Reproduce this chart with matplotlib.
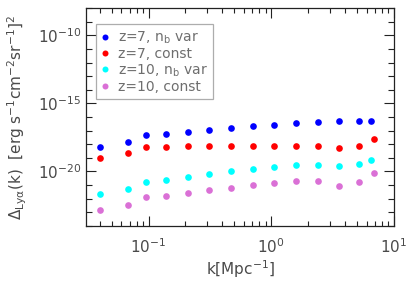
import numpy as np
import matplotlib
matplotlib.use("Agg")
import matplotlib.pyplot as plt
from matplotlib.ticker import FixedLocator, LogLocator, NullFormatter, LogFormatterMathtext

plt.rcParams['font.family'] = ['DejaVu Sans']
plt.rcParams['mathtext.fontset'] = 'dejavusans'

k = [0.0404, 0.0676, 0.0958, 0.138, 0.210, 0.312, 0.470, 0.708, 1.06, 1.59, 2.40, 3.59, 5.23, 6.82]
k_last_alt = [0.0404, 0.0676, 0.0958, 0.138, 0.210, 0.312, 0.470, 0.708, 1.06, 1.59, 2.40, 3.59, 5.23, 6.45]

log_z7_var = [-18.17, -17.85, -17.34, -17.26, -17.12, -16.97, -16.82, -16.68, -16.55, -16.43, -16.33, -16.31, -16.29, -16.29]
log_z7_const = [-18.98, -18.67, -18.22, -18.20, -18.15, -18.13, -18.13, -18.15, -18.15, -18.13, -18.15, -18.30, -18.13, -17.61]
log_z10_var = [-21.64, -21.32, -20.78, -20.66, -20.41, -20.19, -19.99, -19.82, -19.65, -19.53, -19.50, -19.57, -19.48, -19.16]
log_z10_const = [-22.80, -22.45, -21.91, -21.82, -21.60, -21.37, -21.20, -21.00, -20.86, -20.73, -20.71, -21.05, -20.78, -20.14]

labels = [r'z=7, n$_{\rm b}$ var', 'z=7, const', r'z=10, n$_{\rm b}$ var', 'z=10, const']
colors = ['#0000ff', '#ff0000', '#00ffff', '#da70d6']

fig = plt.figure(figsize=(4.16, 2.90), dpi=100)
ax = fig.add_axes([0.207, 0.221, 0.740, 0.751])

series = [(k_last_alt, log_z7_var), (k, log_z7_const), (k_last_alt, log_z10_var), (k, log_z10_const)]
for (kk, ly), c, lab in zip(series, colors, labels):
    ax.plot(kk, 10.0 ** np.array(ly), 'o', color=c, ms=4.8, mec='none', label=lab)

ax.set_xscale('log')
ax.set_yscale('log')
ax.set_xlim(0.031, 10)
ax.set_ylim(1e-24, 1e-8)

ax.yaxis.set_major_locator(FixedLocator([1e-20, 1e-15, 1e-10]))
ax.yaxis.set_major_formatter(LogFormatterMathtext())
ax.yaxis.set_minor_locator(FixedLocator([10.0 ** e for e in range(-24, -7)]))
ax.yaxis.set_minor_formatter(NullFormatter())
ax.xaxis.set_minor_locator(LogLocator(base=10, subs=np.arange(2, 10), numticks=20))

tc = '#4a4a4a'
ax.tick_params(which='both', direction='in', top=True, right=True, colors='#222222', labelcolor=tc, labelsize=11)
ax.tick_params(which='major', length=7, width=0.8)
ax.tick_params(axis='y', which='minor', length=4.5, width=0.8)
ax.tick_params(axis='x', which='minor', length=3.5, width=0.8)
ax.tick_params(axis='x', which='major', pad=8)
for s in ax.spines.values():
    s.set_color('#222222')
    s.set_linewidth(0.9)

ax.set_xlabel(r'k[Mpc$^{-1}$]', color=tc, fontsize=11, labelpad=2)
ax.set_ylabel(r'$\Delta_{\rm Ly\alpha}$(k)  [erg s$^{-1}$cm$^{-2}$sr$^{-1}$]$^2$', color=tc, fontsize=11, labelpad=6)

leg = ax.legend(loc='upper left', bbox_to_anchor=(0.031, 0.927), borderaxespad=0, frameon=True,
                fancybox=False, edgecolor='#999999', fontsize=10, handlelength=0.6, handletextpad=0.6,
                labelspacing=0.08, borderpad=0.4, markerscale=0.9)
leg.get_frame().set_linewidth(0.9)
for t in leg.get_texts():
    t.set_color('#6e6e6e')

fig.savefig('out.png', dpi=100)
